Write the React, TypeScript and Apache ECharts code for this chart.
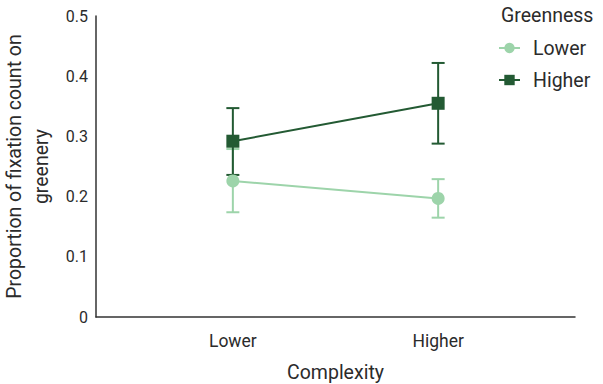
import React, { useEffect, useRef } from "react";
import * as echarts from "echarts";

const complexity = ["Lower", "Higher"];
const complexityPos = [2, 5];
const lowerMean = [0.226, 0.197];
const lowerLow = [0.174, 0.165];
const lowerHigh = [0.279, 0.229];
const higherMean = [0.292, 0.355];
const higherLow = [0.236, 0.288];
const higherHigh = [0.347, 0.422];
const yTicks = [0, 0.1, 0.2, 0.3, 0.4, 0.5];

const LIGHT = "#9dd4aa";
const DARK = "#235a33";
const FONT = "Roboto";
const TXT = "#2b2b2b";

function errorSeries(name: string, low: number[], high: number[], color: string) {
  return {
    type: "custom",
    name: name + "_err",
    data: complexityPos.map((x, i) => [x, low[i], high[i]]),
    z: 1,
    renderItem: (params: any, api: any) => {
      const x = api.value(0);
      const p1 = api.coord([x, api.value(1)]);
      const p2 = api.coord([x, api.value(2)]);
      const w = 6.5;
      const style = { stroke: color, lineWidth: 2 };
      return {
        type: "group",
        children: [
          { type: "line", shape: { x1: p1[0], y1: p1[1], x2: p2[0], y2: p2[1] }, style },
          { type: "line", shape: { x1: p1[0] - w, y1: p1[1], x2: p1[0] + w, y2: p1[1] }, style },
          { type: "line", shape: { x1: p2[0] - w, y1: p2[1], x2: p2[0] + w, y2: p2[1] }, style },
        ],
      };
    },
  };
}

export default function App() {
  const ref = useRef<HTMLDivElement>(null);
  useEffect(() => {
    const chart = echarts.init(ref.current!, null, { renderer: "svg" });
    chart.setOption({
      animation: false,
      grid: { left: 96, right: 28, top: 16, bottom: 67, outerBoundsMode: "none", containLabel: false },
      title: {
        text: "Greenness",
        left: 501,
        top: 5,
        padding: 0,
        textStyle: { fontFamily: FONT, fontSize: 19.5, fontWeight: "normal", color: TXT },
      },
      legend: {
        orient: "vertical",
        left: 498,
        top: 38,
        padding: 0,
        itemWidth: 21,
        itemHeight: 13,
        itemGap: 12,
        data: ["Lower", "Higher"],
        textStyle: { fontFamily: FONT, fontSize: 19.5, color: TXT, padding: [0, 0, 0, 8] },
      },
      xAxis: {
        type: "value",
        min: 0,
        max: 7,
        interval: 1,
        axisLine: { show: true, lineStyle: { color: "#333", width: 1.5 } },
        axisTick: { show: false },
        splitLine: { show: false },
        axisLabel: {
          margin: 15,
          fontFamily: FONT,
          fontSize: 17.5,
          color: TXT,
          formatter: (v: number) => {
            const i = complexityPos.indexOf(v);
            return i >= 0 ? complexity[i] : "";
          },
        },
        name: "Complexity",
        nameLocation: "middle",
        nameGap: 45,
        nameTextStyle: { fontFamily: FONT, fontSize: 19.5, color: TXT },
      },
      yAxis: {
        type: "value",
        min: yTicks[0],
        max: yTicks[yTicks.length - 1],
        interval: 0.1,
        axisLine: { show: true, lineStyle: { color: "#333", width: 1.5 } },
        axisTick: { show: false },
        splitLine: { show: false },
        axisLabel: {
          margin: 8,
          fontFamily: FONT,
          fontSize: 16,
          color: TXT,
          formatter: (v: number) => String(Math.round(v * 10) / 10),
        },
        name: "Proportion of fixation count on\ngreenery",
        nameLocation: "middle",
        nameGap: 40,
        nameTextStyle: { fontFamily: FONT, fontSize: 19.5, color: TXT, lineHeight: 27 },
      },
      series: [
        errorSeries("Lower", lowerLow, lowerHigh, LIGHT),
        errorSeries("Higher", higherLow, higherHigh, DARK),
        {
          type: "line",
          name: "Lower",
          data: complexityPos.map((x, i) => [x, lowerMean[i]]),
          symbol: "circle",
          symbolSize: 13,
          itemStyle: { color: LIGHT },
          lineStyle: { color: LIGHT, width: 2 },
          z: 3,
        },
        {
          type: "line",
          name: "Higher",
          data: complexityPos.map((x, i) => [x, higherMean[i]]),
          symbol: "rect",
          symbolSize: 13,
          itemStyle: { color: DARK },
          lineStyle: { color: DARK, width: 2 },
          z: 4,
        },
      ],
    });
    return () => chart.dispose();
  }, []);
  return (
    <div
      ref={ref}
      style={{ position: "absolute", left: 0, top: 0, width: 603, height: 384 }}
    />
  );
}
